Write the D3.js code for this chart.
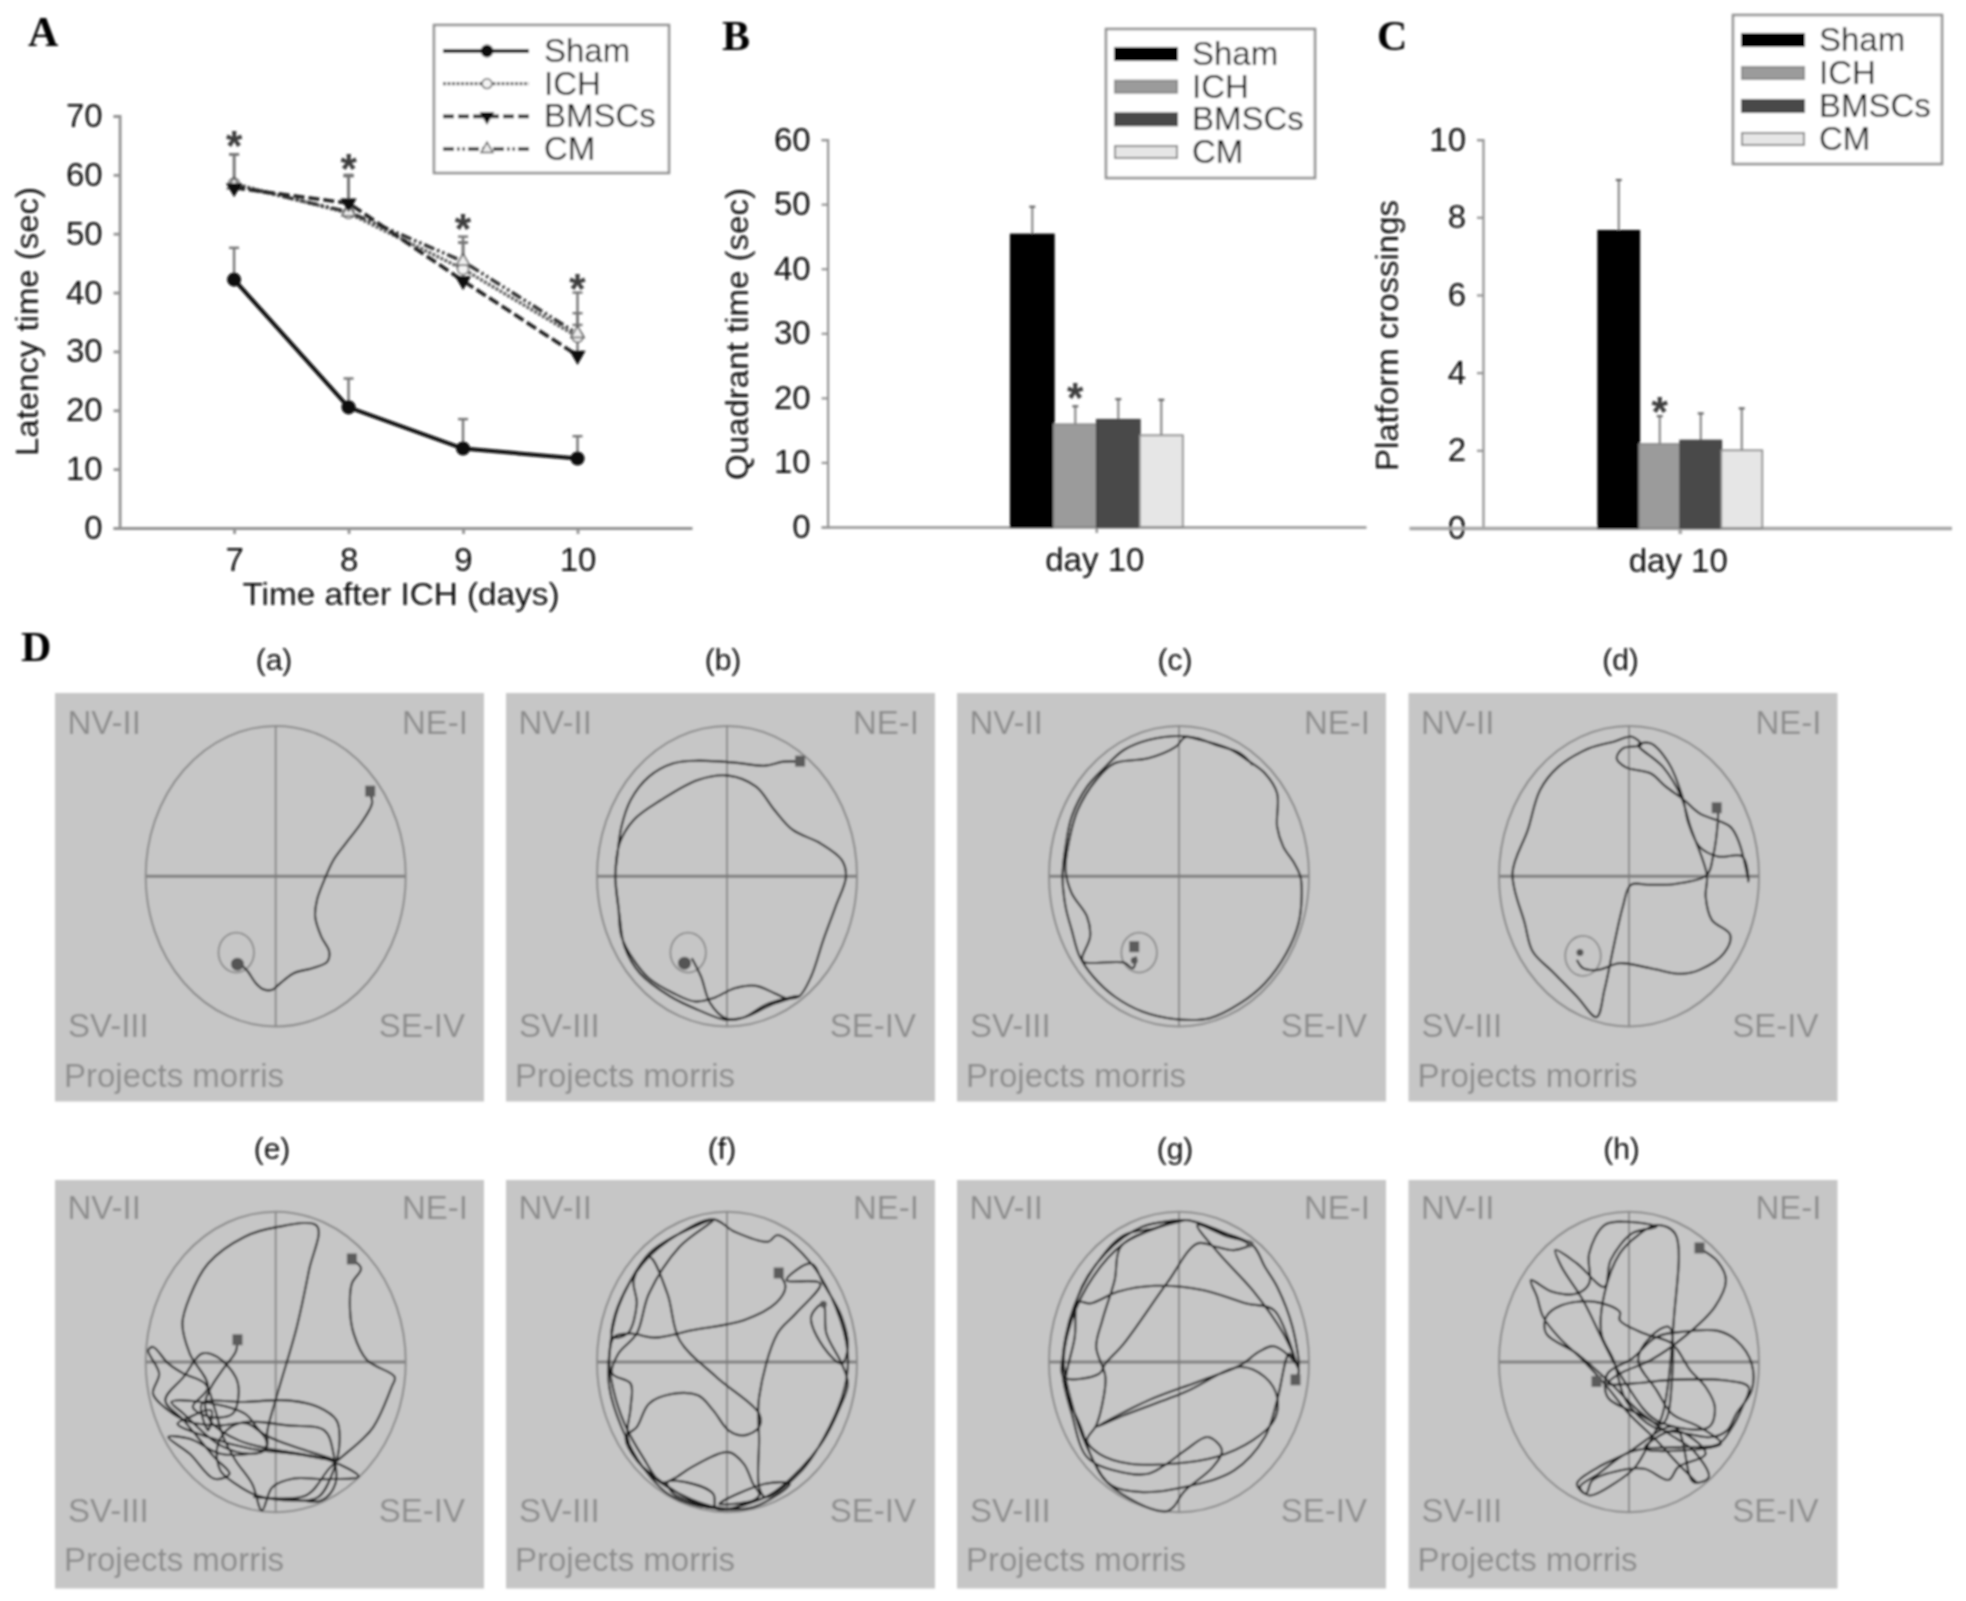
<!DOCTYPE html>
<html><head><meta charset="utf-8">
<style>html,body{margin:0;padding:0;background:#fff}svg{display:block}text{font-family:"Liberation Sans",Arial,sans-serif}</style>
<script src="https://cdn.jsdelivr.net/npm/d3@7/dist/d3.min.js"></script></head><body>
<script>
// ---------- Panel A data
const days=[7,8,9,10];
const latencySham=[42.2,20.5,13.5,11.8], latencyShamErr=[47.6,25.4,18.5,15.6];
const latencyICH=[58.5,53.5,44,32.5], latencyICHErr=[63.5,59.8,48.5,34.5];
const latencyBMSC=[57.8,55.2,42,29.3], latencyBMSCErr=[63.5,60,48.5,36.5];
const latencyCM=[58.3,53.7,45.3,33], latencyCMErr=[63.5,59.8,49.5,40];
const latencyStars=[66.2,62.3,52.1,42];
const groupNames=["Sham","ICH","BMSCs","CM"];
// ---------- Panel B / C data
const quadrantTime=[45.3,15.9,16.6,14.2], quadrantErr=[49.6,18.7,19.8,19.7];
const crossings=[7.65,2.16,2.25,2.0], crossingsErr=[8.96,2.88,2.95,3.08];
const barCategory=["day 10"];
// ---------- Panel D labels
const trackTitles=["(a)","(b)","(c)","(d)","(e)","(f)","(g)","(h)"];
const quadrantLabels=["NV-II","NE-I","SV-III","SE-IV"];
// ---------- Panel D swim tracks, in tracking-image units
const trackA=[[605,490],[608,520],[590,580],[565,640],[545,690],[530,750],[518,810],[515,860],[525,920],[538,965],[535,995],[510,1015],[480,1030],[455,1065],[445,1080],[430,1078],[418,1060],[405,1025],[392,1000]];
const trackB=[[1307,395],[1280,395],[1250,407],[1200,398],[1140,392],[1100,400],[1060,440],[1030,510],[1015,590],[1008,680],[1005,740],[1010,830],[1015,920],[1035,990],[1060,1045],[1100,1090],[1135,1115],[1165,1105],[1200,1075],[1235,1068],[1265,1090],[1285,1105],[1305,1100],[1325,1040],[1345,930],[1365,830],[1382,740],[1375,690],[1340,640],[1295,600],[1265,540],[1235,470],[1190,437],[1140,450],[1080,510],[1035,570],[1012,640],[1005,740],[1012,860],[1020,950],[1045,1030],[1095,1100],[1140,1140],[1185,1170],[1215,1163],[1250,1125],[1285,1105],[1305,1098],[1260,1125],[1215,1163],[1185,1165],[1160,1120],[1145,1040],[1130,985]];
const trackC=[[510,405],[490,370],[450,345],[420,325],[395,318],[340,330],[300,360],[270,410],[240,470],[215,560],[205,650],[200,740],[205,830],[215,900],[228,980],[250,1040],[285,1100],[330,1145],[385,1168],[440,1165],[490,1120],[530,1060],[565,970],[585,880],[590,800],[588,740],[578,700],[560,650],[550,590],[550,490],[530,430],[505,395],[470,355],[425,330],[400,322],[385,350],[340,385],[285,400],[255,450],[225,540],[210,640],[205,720],[215,790],[240,860],[245,920],[232,985],[235,997],[300,998],[315,1015],[320,980]];
const trackD=[[1270,535],[1270,570],[1262,680],[1252,735],[1200,762],[1160,765],[1128,765],[1115,830],[1100,950],[1085,1080],[1072,1162],[1040,1100],[1000,1025],[968,965],[955,880],[935,730],[960,600],[980,480],[1010,410],[1060,355],[1100,335],[1130,320],[1145,345],[1115,355],[1105,385],[1120,412],[1160,430],[1185,470],[1215,510],[1240,550],[1290,590],[1305,640],[1320,755],[1310,680],[1270,680],[1240,650],[1222,580],[1212,500],[1190,400],[1160,340],[1140,345],[1180,410],[1210,500],[1225,590],[1252,735],[1250,800],[1260,870],[1290,915],[1280,970],[1240,1020],[1210,1032],[1160,1015],[1110,1000],[1075,1020],[1050,1015],[1040,990]];
const trackE=[[388,660],[385,695],[365,745],[345,800],[335,850],[345,905],[390,960],[440,985],[490,1000],[540,1020],[586,1068],[530,1076],[480,1074],[445,1100],[428,1170],[412,1090],[385,1020],[365,950],[350,860],[335,790],[300,760],[275,730],[250,680],[242,690],[260,760],[250,820],[275,870],[310,905],[360,915],[405,910],[435,960],[432,990],[410,1000],[360,1000],[310,955],[275,950],[310,1000],[350,1075],[375,1060],[350,1010],[300,900],[270,840],[300,770],[330,700],[355,710],[385,770],[390,820],[380,880],[345,890],[315,860],[340,800],[310,700],[298,610],[310,530],[340,430],[400,350],[450,322],[518,318],[505,450],[485,620],[455,810],[437,930],[435,985],[410,1000],[360,975],[300,880],[280,845],[330,845],[400,880],[430,940],[500,990],[550,1020],[480,1000],[410,985],[340,950],[290,910],[310,890],[345,870],[340,930],[330,850],[400,845],[470,840],[520,860],[550,900],[555,960],[545,1050],[520,1130],[480,1140],[420,1125],[385,1090],[360,1050],[355,980],[370,930],[400,905],[470,915],[530,930],[545,1000],[548,1090],[525,1140],[470,1135],[415,1130],[500,1125],[540,1040],[590,960],[610,920],[640,800],[645,770],[600,720],[578,640],[572,570],[575,490],[590,445],[575,418]];
const trackF=[[1272,460],[1283,500],[1268,548],[1215,600],[1130,630],[1070,652],[1030,640],[1003,650],[995,720],[1002,810],[1020,910],[1050,1010],[1080,1085],[1100,1075],[1130,1040],[1190,995],[1215,1030],[1230,1090],[1240,1125],[1170,1165],[1165,1120],[1120,1085],[1090,1085],[1100,1120],[1140,1150],[1170,1165],[1120,1130],[1085,1090],[1040,1020],[1022,950],[1040,920],[1060,850],[1095,822],[1140,825],[1165,870],[1190,930],[1215,945],[1240,920],[1240,880],[1170,770],[1110,660],[1090,520],[1060,410],[1035,480],[1040,550],[1025,640],[1000,650],[1005,580],[1030,480],[1060,400],[1100,350],[1165,300],[1110,380],[1060,520],[1040,640],[1010,700],[1000,760],[1030,790],[1030,860],[1025,950],[1045,1030],[1090,1100],[1170,1160],[1230,1160],[1290,1090],[1250,1090],[1175,1150],[1250,1130],[1310,1040],[1345,960],[1370,870],[1385,790],[1375,730],[1350,640],[1345,550],[1325,590],[1345,680],[1375,730],[1385,680],[1375,590],[1345,490],[1325,430],[1285,480],[1340,490],[1300,580],[1270,640],[1240,830],[1240,960],[1240,1100],[1250,1130],[1310,1050],[1355,920],[1380,800],[1385,700],[1365,560],[1325,430],[1270,345],[1255,365],[1200,335],[1165,298],[1110,340],[1050,430],[1010,560],[995,700],[995,800],[1015,920],[1050,1040],[1100,1130],[1187,1165],[1250,1130]];
const trackG=[[580,780],[585,745],[545,678],[520,695],[490,735],[420,785],[340,840],[255,920],[300,885],[400,815],[490,740],[530,770],[550,830],[545,900],[510,960],[450,1010],[380,1030],[310,1030],[260,1000],[240,960],[255,915],[265,850],[270,770],[255,680],[265,600],[285,480],[295,380],[350,325],[400,300],[450,330],[510,375],[530,440],[550,500],[575,620],[585,740],[545,570],[500,550],[430,510],[350,497],[290,515],[245,550],[225,545],[215,600],[205,670],[202,770],[260,760],[270,730],[300,670],[370,490],[420,370],[450,380],[480,390],[510,370],[470,350],[420,315],[455,400],[510,510],[560,640],[585,745],[570,700],[550,840],[530,950],[480,1050],[410,1095],[330,1115],[280,1095],[250,1020],[230,920],[205,800],[220,650],[225,530],[270,400],[330,320],[400,300],[360,320],[300,370],[250,470],[215,600],[202,720],[220,880],[245,1000],[275,1090],[370,1172],[400,1110],[445,1040],[460,990],[437,950],[400,990],[370,1030],[340,1060],[285,1050],[240,1010],[215,880],[200,760],[205,650],[225,530],[260,420],[300,345],[350,325],[400,300],[440,320],[510,375]];
const trackH=[[1240,385],[1270,425],[1283,480],[1265,560],[1215,650],[1160,720],[1110,760],[1090,790],[1130,790],[1200,778],[1280,780],[1320,800],[1310,860],[1290,930],[1270,972],[1210,980],[1150,985],[1120,1000],[1075,1060],[1045,1100],[1060,1125],[1100,1090],[1135,1040],[1160,960],[1180,880],[1198,600],[1200,340],[1170,315],[1140,345],[1110,400],[1085,520],[1080,640],[1100,720],[1120,840],[1165,920],[1220,940],[1260,950],[1285,930],[1300,880],[1325,810],[1325,730],[1300,660],[1270,632],[1210,635],[1170,650],[1130,715],[1090,760],[1090,830],[1140,880],[1180,910],[1195,780],[1190,620],[1160,650],[1140,720],[1170,810],[1195,880],[1240,920],[1275,970],[1150,985],[1200,930],[1250,1000],[1205,1040],[1190,1078],[1150,1045],[1110,1050],[1065,1080],[1055,1120],[1040,1090],[1075,1040],[1120,1000],[1200,920],[1230,1085],[1255,1070],[1230,990],[1190,940],[1140,870],[1090,780],[1040,700],[990,640],[990,590],[1015,555],[1070,545],[1110,575],[1110,600],[1150,640],[1195,670],[1225,750],[1250,800],[1265,860],[1255,920],[1170,900],[1120,790],[1090,690],[1050,540],[1015,440],[1005,390],[1040,430],[1085,500],[1095,420],[1130,340],[1170,320],[1120,305],[1085,315],[1060,400],[1060,490],[1040,520],[1000,515],[965,480],[975,530],[985,590],[1010,650],[1050,720],[1085,790],[1125,880],[1170,960],[1205,1030],[1235,1085]];
const tracks=[trackA,trackB,trackC,trackD,trackE,trackF,trackG,trackH];
const poolDomainsX=[[238,663],[975,1400],[178,602],[913,1337],[238,663],[975,1400],[178,602],[913,1337]];
const poolDomainsY=[[288,1190],[288,1190],[288,1190],[288,1190],[275,1175],[275,1175],[275,1175],[275,1175]];
const platforms=[[386,968],[1124,968],[325,968],[1050,978],null,null,null,null];
const startMarks=[[605,485],[1307,395],[317,952],[1268,535],[388,660],[1272,460],[580,780],[1072,785]];
const endMarks=[[388,1003],[1118,1000],[317,992],[1045,968],[575,418],[1345,552],[505,372],[1240,385]];

const W=1966,H=1601;
const svg=d3.select("body").append("svg").attr("width",W).attr("height",H).attr("viewBox",`0 0 ${W} ${H}`);
const defs=svg.append("defs");
defs.append("filter").attr("id","soft").attr("x","-2%").attr("y","-2%").attr("width","104%").attr("height","104%")
  .append("feGaussianBlur").attr("stdDeviation",0.8);
const root=svg.append("g").attr("filter","url(#soft)");
const INK="#0c0c0c",AXIS="#939393";

function styleAxis(g,w,c){
  g.selectAll("path.domain,line").attr("stroke",c||AXIS).attr("stroke-width",w);
  g.selectAll("text").attr("fill",INK).attr("font-size",33);
}
function panelLetter(t,x,y){root.append("text").text(t).attr("x",x).attr("y",y).style("font-family",'"Liberation Serif",serif')
  .attr("font-weight","bold").attr("font-size",42).attr("fill","#000");}
function yTitle(t,x,cy,len){root.append("text").text(t).attr("transform",`translate(${x},${cy}) rotate(-90)`).attr("text-anchor","middle")
  .attr("font-size",32).attr("fill",INK).attr("textLength",len).attr("lengthAdjust","spacingAndGlyphs");}
function star(x,y){root.append("text").text("*").attr("x",x).attr("y",y+22).attr("text-anchor","middle").attr("font-weight","bold").attr("font-size",42).attr("fill","#3c3c3c");}

// ---------- Panel A
const xA=d3.scaleLinear().domain([6,11]).range([119.6,692]);
const yA=d3.scaleLinear().domain([0,70]).range([528,116]);
const gAy=root.append("g").attr("transform","translate(119.6,0)").call(d3.axisLeft(yA).tickValues(d3.range(0,71,10)).tickSize(6).tickPadding(11).tickSizeOuter(6));
styleAxis(gAy,2.8);
const gAx=root.append("g").attr("transform","translate(0,528)").call(d3.axisBottom(xA).tickValues(days).tickFormat(d3.format("d")).tickSize(6).tickPadding(14).tickSizeOuter(0));
styleAxis(gAx,2.8);
root.append("text").text("Time after ICH (days)").attr("x",401).attr("y",605).attr("text-anchor","middle").attr("font-size",32).attr("fill",INK).attr("textLength",317).attr("lengthAdjust","spacingAndGlyphs");
yTitle("Latency time (sec)",37.5,321.5,269);
panelLetter("A",28,46);panelLetter("B",722,50);panelLetter("C",1377,50);panelLetter("D",21,661);

const lineSpecs=[
 {v:latencyICH,e:latencyICHErr,stroke:"#5e5e5e",w:3.4,dash:"3 1.5",sym:d3.symbolCircle,size:95,fill:"#f4f4f4",ms:"#666"},
 {v:latencyCM,e:latencyCMErr,stroke:"#333",w:3.4,dash:"11 3 2.5 3 2.5 3",sym:d3.symbolTriangle,size:75,fill:"#eee",ms:"#555"},
 {v:latencyBMSC,e:latencyBMSCErr,stroke:"#222",w:3.6,dash:"11 4",sym:d3.symbolTriangle,size:80,fill:"#111",ms:"#111",flip:true},
 {v:latencySham,e:latencyShamErr,stroke:"#0a0a0a",w:4,dash:null,sym:d3.symbolCircle,size:125,fill:"#0a0a0a",ms:"#0a0a0a"}];
lineSpecs.forEach(s=>{
  const g=root.append("g");
  s.e.forEach((top,i)=>{
    g.append("line").attr("x1",xA(days[i])).attr("x2",xA(days[i])).attr("y1",yA(s.v[i])).attr("y2",yA(top)).attr("stroke","#747474").attr("stroke-width",2.4);
    g.append("line").attr("x1",xA(days[i])-5).attr("x2",xA(days[i])+5).attr("y1",yA(top)).attr("y2",yA(top)).attr("stroke","#747474").attr("stroke-width",2.4);
  });
});
lineSpecs.forEach(s=>{
  const g=root.append("g");
  g.append("path").attr("d",d3.line().x((d,i)=>xA(days[i])).y(d=>yA(d))(s.v)).attr("fill","none").attr("stroke",s.stroke).attr("stroke-width",s.w).attr("stroke-dasharray",s.dash);
  g.selectAll("path.m").data(s.v).join("path").attr("class","m")
   .attr("d",d3.symbol().type(s.sym).size(s.size))
   .attr("transform",(d,i)=>`translate(${xA(days[i])},${yA(d)})${s.flip?" rotate(180)":""}`)
   .attr("fill",s.fill).attr("stroke",s.ms).attr("stroke-width",1.5);
});
latencyStars.forEach((v,i)=>star(xA(days[i]),yA(v)));
// legend A
root.append("rect").attr("x",434).attr("y",25).attr("width",235).attr("height",148).attr("fill","#fff").attr("stroke",AXIS).attr("stroke-width",2.6);
const legOrder=[lineSpecs[3],lineSpecs[0],lineSpecs[2],lineSpecs[1]];
const legYA=d3.scalePoint().domain(groupNames).range([51,149]);
groupNames.forEach((n,i)=>{
  const s=legOrder[i],y=legYA(n);
  root.append("line").attr("x1",443).attr("x2",529).attr("y1",y).attr("y2",y).attr("stroke",s.stroke).attr("stroke-width",s.w).attr("stroke-dasharray",s.dash);
  root.append("path").attr("d",d3.symbol().type(s.sym).size(s.size*.8)()).attr("transform",`translate(487,${y})${s.flip?" rotate(180)":""}`).attr("fill",s.fill).attr("stroke",s.ms).attr("stroke-width",1.5);
  root.append("text").text(n).attr("x",544).attr("y",y+11).attr("font-size",33).attr("fill",INK);
});

// ---------- Panels B, C
const barFill=["#000","#9b9b9b","#4a4a4a","#e6e6e6"],barStroke=["#000","#888","#444","#8a8a8a"];
function barPanel(o){
  const y=d3.scaleLinear().domain([0,o.max]).range([o.y0,o.y1]);
  const x=d3.scaleBand().domain(barCategory).range([o.xl,o.xr]);
  const cx=x("day 10")+x.bandwidth()/2;
  const inner=d3.scaleBand().domain(groupNames).range([cx-o.bw*2,cx+o.bw*2]);
  const gy=root.append("g").attr("transform",`translate(${o.ax},0)`).call(d3.axisLeft(y).tickValues(o.ticks).tickSize(6).tickPadding(11));
  styleAxis(gy,2.2);
  const gx=root.append("g").attr("transform",`translate(0,${o.y0})`).call(d3.axisBottom(x).tickSize(o.tick).tickPadding(o.tp).tickSizeOuter(0));
  styleAxis(gx,o.xw,o.xc);gx.selectAll("text").attr("font-size",33).attr("dx",-2);
  const g=root.append("g");
  g.selectAll("line.e").data(o.err).join("line").attr("class","e").attr("x1",(d,i)=>inner(groupNames[i])+o.bw/2).attr("x2",(d,i)=>inner(groupNames[i])+o.bw/2)
   .attr("y1",(d,i)=>y(o.val[i])).attr("y2",d=>y(d)).attr("stroke","#7e7e7e").attr("stroke-width",2);
  g.selectAll("line.c").data(o.err).join("line").attr("class","c").attr("x1",(d,i)=>inner(groupNames[i])+o.bw/2-3).attr("x2",(d,i)=>inner(groupNames[i])+o.bw/2+3)
   .attr("y1",d=>y(d)).attr("y2",d=>y(d)).attr("stroke","#666").attr("stroke-width",2.2);
  g.selectAll("rect").data(o.val).join("rect").attr("x",(d,i)=>inner(groupNames[i])).attr("width",inner.bandwidth())
   .attr("y",d=>y(d)).attr("height",d=>o.y0-y(d)).attr("fill",(d,i)=>barFill[i]).attr("stroke",(d,i)=>barStroke[i]).attr("stroke-width",1.8);
  star(inner("ICH")+o.bw/2,y(o.star));
  root.append("rect").attr("x",o.lx).attr("y",o.ly).attr("width",o.lw).attr("height",o.lh).attr("fill","#fff").attr("stroke",AXIS).attr("stroke-width",2.6);
  const ly=d3.scalePoint().domain(groupNames).range(o.lr);
  groupNames.forEach((n,i)=>{
    root.append("rect").attr("x",o.lx+9).attr("y",ly(n)-6).attr("width",62).attr("height",12).attr("fill",barFill[i]).attr("stroke",barStroke[i]).attr("stroke-width",2);
    root.append("text").text(n).attr("x",o.lx+86).attr("y",ly(n)+11).attr("font-size",33).attr("fill",INK);
  });
}
barPanel({max:60,y0:527,y1:139.6,ax:827.6,xl:827.6,xr:1366,bw:43,ticks:d3.range(0,61,10),val:quadrantTime,err:quadrantErr,star:21.2,tick:6,tp:15,xw:2.4,lx:1106,ly:29,lw:209,lh:149,lr:[54,152]});
barPanel({max:10,y0:528,y1:139.6,ax:1483,xl:1409,xr:1951.5,bw:41,ticks:d3.range(0,11,2),val:crossings,err:crossingsErr,star:3.2,tick:6,tp:15,xw:3.6,xc:"#a6a6a6",lx:1733,ly:15,lw:209,lh:149,lr:[40,139]});
yTitle("Quadrant time (sec)",748,334,292);
yTitle("Platform crossings",1398,335.5,271);

// ---------- Panel D
const colX=[55,506,957,1408.5],rowY=[693,1180],panelW=429,panelH=408.5;
const titleDX=[219,217,218,212,217,216,218,213];
const poolL=[145.7,597,1049,1499],poolT=[726,1211.7];
const poolRX=260,poolRY=300.5;
const trackLine=d3.line().curve(d3.curveCatmullRom.alpha(0.5));
tracks.forEach((tr,k)=>{
  const c=k%4,r=k<4?0:1,px=colX[c],py=rowY[r];
  const g=root.append("g");
  g.append("rect").attr("x",px).attr("y",py).attr("width",panelW).attr("height",panelH).attr("fill","#c6c6c6");
  root.append("text").text(trackTitles[k]).attr("x",px+titleDX[k]).attr("y",py-(r?21:23)).attr("text-anchor","middle").attr("font-size",30).attr("fill",INK);
  const qx=[[12.5,"start"],[413,"end"],[13,"start"],[410,"end"]];
  const qy=[41,41,344,344];
  quadrantLabels.forEach((q,i)=>g.append("text").text(q).attr("x",px+qx[i][0]).attr("y",py+qy[i]-(r?2:0)).attr("text-anchor",qx[i][1]).attr("font-size",33).attr("fill","#8c8c8c"));
  g.append("text").text("Projects morris").attr("x",px+9).attr("y",py+(r?391:394)).attr("font-size",33).attr("fill","#8c8c8c").attr("textLength",220).attr("lengthAdjust","spacingAndGlyphs");
  const sx=d3.scaleLinear().domain(poolDomainsX[k]).range([poolL[c],poolL[c]+poolRX]);
  const sy=d3.scaleLinear().domain(poolDomainsY[k]).range([poolT[r],poolT[r]+poolRY]);
  const cx=poolL[c]+poolRX/2,cy=poolT[r]+poolRY/2;
  g.append("line").attr("x1",cx).attr("x2",cx).attr("y1",poolT[r]).attr("y2",poolT[r]+poolRY).attr("stroke","#858585").attr("stroke-width",1.8);
  g.append("line").attr("x1",poolL[c]).attr("x2",poolL[c]+poolRX).attr("y1",cy).attr("y2",cy).attr("stroke","#7e7e7e").attr("stroke-width",3);
  g.append("ellipse").attr("cx",cx).attr("cy",cy).attr("rx",poolRX/2).attr("ry",poolRY/2).attr("fill","none").attr("stroke","#8a8a8a").attr("stroke-width",2);
  if(platforms[k]){
    g.append("ellipse").attr("cx",sx(platforms[k][0])).attr("cy",sy(platforms[k][1])).attr("rx",sx(29)-sx(0)).attr("ry",sy(60)-sy(0)).attr("fill","none").attr("stroke","#8a8a8a").attr("stroke-width",1.8);
  }
  g.append("path").attr("d",trackLine(tr.map(p=>[sx(p[0]),sy(p[1])]))).attr("fill","none").attr("stroke","#1c1c1c").attr("stroke-width",2.1).attr("stroke-linejoin","round");
  g.append("rect").attr("x",sx(startMarks[k][0])-5).attr("y",sy(startMarks[k][1])-6).attr("width",10).attr("height",11).attr("fill","#5c5c5c");
  if(k==4||k==7) g.append("rect").attr("x",sx(endMarks[k][0])-5).attr("y",sy(endMarks[k][1])-6).attr("width",10).attr("height",11).attr("fill","#5c5c5c");
  else g.append("circle").attr("cx",sx(endMarks[k][0])).attr("cy",sy(endMarks[k][1])).attr("r",k<2?6.5:3.5).attr("fill","#555");
});
</script></body></html>
